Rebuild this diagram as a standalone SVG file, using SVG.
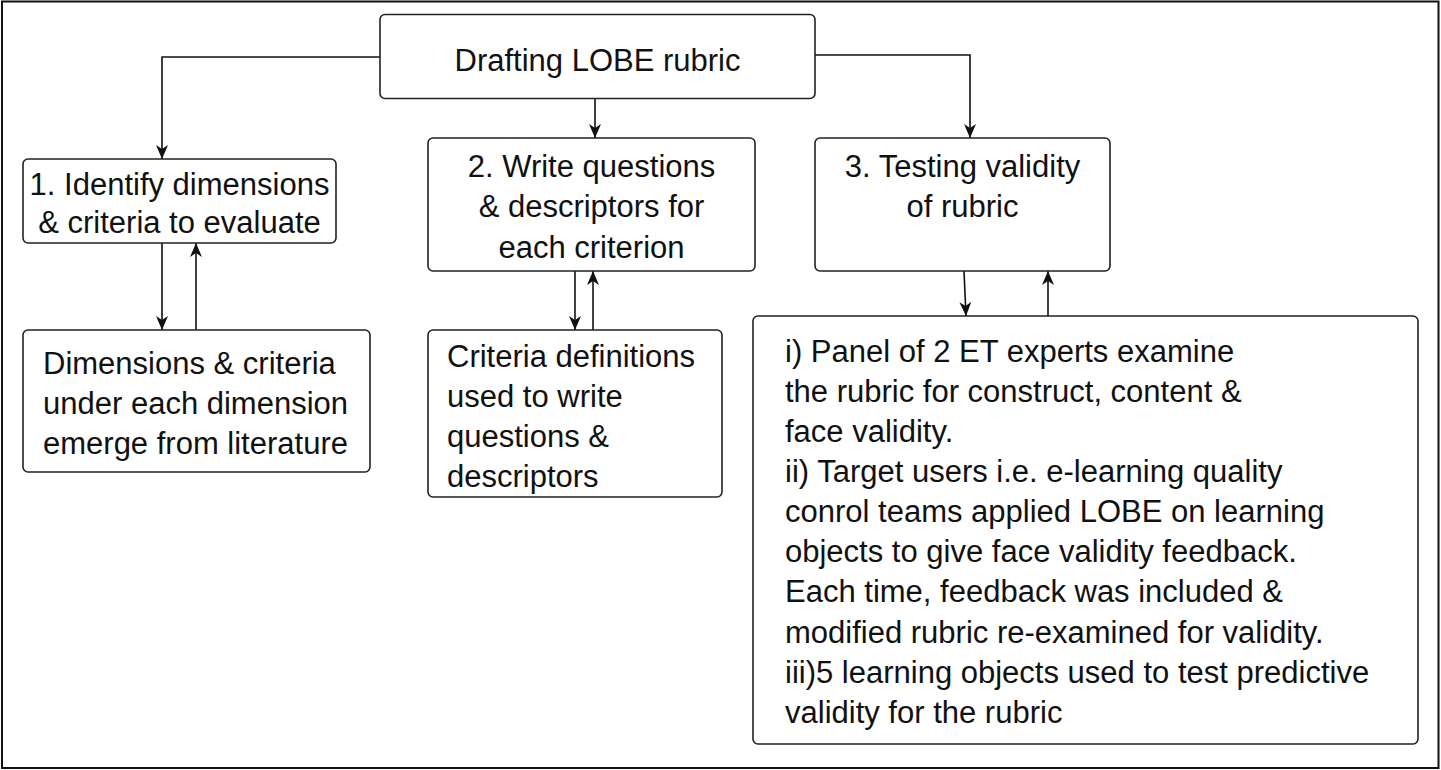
<svg xmlns="http://www.w3.org/2000/svg" width="1441" height="770" viewBox="0 0 1441 770">
<style>
.box{fill:#fff;stroke:#222;stroke-width:1.6}
.t{font-family:"Liberation Sans",Arial,Helvetica,sans-serif;font-size:31px;fill:#111}
.c{text-anchor:middle}
.ln{fill:none;stroke:#111;stroke-width:1.6}
</style>
<defs>
<marker id="arr" viewBox="0 0 14 12" refX="14" refY="6" markerWidth="14" markerHeight="12" orient="auto" markerUnits="userSpaceOnUse">
<path d="M0,0 L14,6 L0,12 L4,6 z" fill="#111"/>
</marker>
</defs>
<rect x="0" y="0" width="1441" height="770" fill="#fff"/>
<rect x="2" y="1.5" width="1436.5" height="766.5" fill="none" stroke="#111" stroke-width="2"/>
<g id="connectors">
<polyline class="ln" points="380,57 162,57 162,159" marker-end="url(#arr)"/>
<line class="ln" x1="595" y1="98" x2="595" y2="138" marker-end="url(#arr)"/>
<polyline class="ln" points="815,55 970,55 970,138" marker-end="url(#arr)"/>
<line class="ln" x1="162" y1="243" x2="162" y2="330" marker-end="url(#arr)"/>
<line class="ln" x1="196" y1="330" x2="196" y2="243" marker-end="url(#arr)"/>
<line class="ln" x1="575" y1="271" x2="575" y2="330" marker-end="url(#arr)"/>
<line class="ln" x1="593" y1="330" x2="593" y2="271" marker-end="url(#arr)"/>
<line class="ln" x1="964" y1="271" x2="966" y2="316" marker-end="url(#arr)"/>
<line class="ln" x1="1048" y1="316" x2="1048" y2="271" marker-end="url(#arr)"/>
</g>
<g id="drafting">
<rect class="box" x="380" y="14.5" width="435" height="84" rx="5"/>
<text class="t c" x="597.5" y="71">Drafting LOBE rubric</text>
</g>
<g id="step1">
<rect class="box" x="23" y="159" width="313" height="84" rx="5"/>
<text class="t c" x="179.5" y="195">1. Identify dimensions</text>
<text class="t c" x="179.5" y="233">&amp; criteria to evaluate</text>
</g>
<g id="step2">
<rect class="box" x="428" y="138" width="327" height="133" rx="5"/>
<text class="t c" x="591.5" y="177">2. Write questions</text>
<text class="t c" x="591.5" y="217">&amp; descriptors for</text>
<text class="t c" x="591.5" y="258">each criterion</text>
</g>
<g id="step3">
<rect class="box" x="815" y="138" width="295" height="133" rx="5"/>
<text class="t c" x="962.5" y="177">3. Testing validity</text>
<text class="t c" x="962.5" y="217">of rubric</text>
</g>
<g id="dimensions">
<rect class="box" x="23" y="330" width="347" height="142" rx="5"/>
<text class="t" x="43" y="374">Dimensions &amp; criteria</text>
<text class="t" x="43" y="414">under each dimension</text>
<text class="t" x="43" y="454">emerge from literature</text>
</g>
<g id="criteria">
<rect class="box" x="428" y="330" width="294" height="167" rx="5"/>
<text class="t" x="447" y="367">Criteria definitions</text>
<text class="t" x="447" y="407">used to write</text>
<text class="t" x="447" y="447">questions &amp;</text>
<text class="t" x="447" y="487">descriptors</text>
</g>
<g id="validity">
<rect class="box" x="753" y="316" width="665" height="428" rx="5"/>
<text class="t" x="785" y="362">i) Panel of 2 ET experts examine</text>
<text class="t" x="785" y="402">the rubric for construct, content &amp;</text>
<text class="t" x="785" y="442">face validity.</text>
<text class="t" x="785" y="482">ii) Target users i.e. e-learning quality</text>
<text class="t" x="785" y="522">conrol teams applied LOBE on learning</text>
<text class="t" x="785" y="562">objects to give face validity feedback.</text>
<text class="t" x="785" y="602">Each time, feedback was included &amp;</text>
<text class="t" x="785" y="643">modified rubric re-examined for validity.</text>
<text class="t" x="785" y="683">iii)5 learning objects used to test predictive</text>
<text class="t" x="785" y="723">validity for the rubric</text>
</g>
</svg>
